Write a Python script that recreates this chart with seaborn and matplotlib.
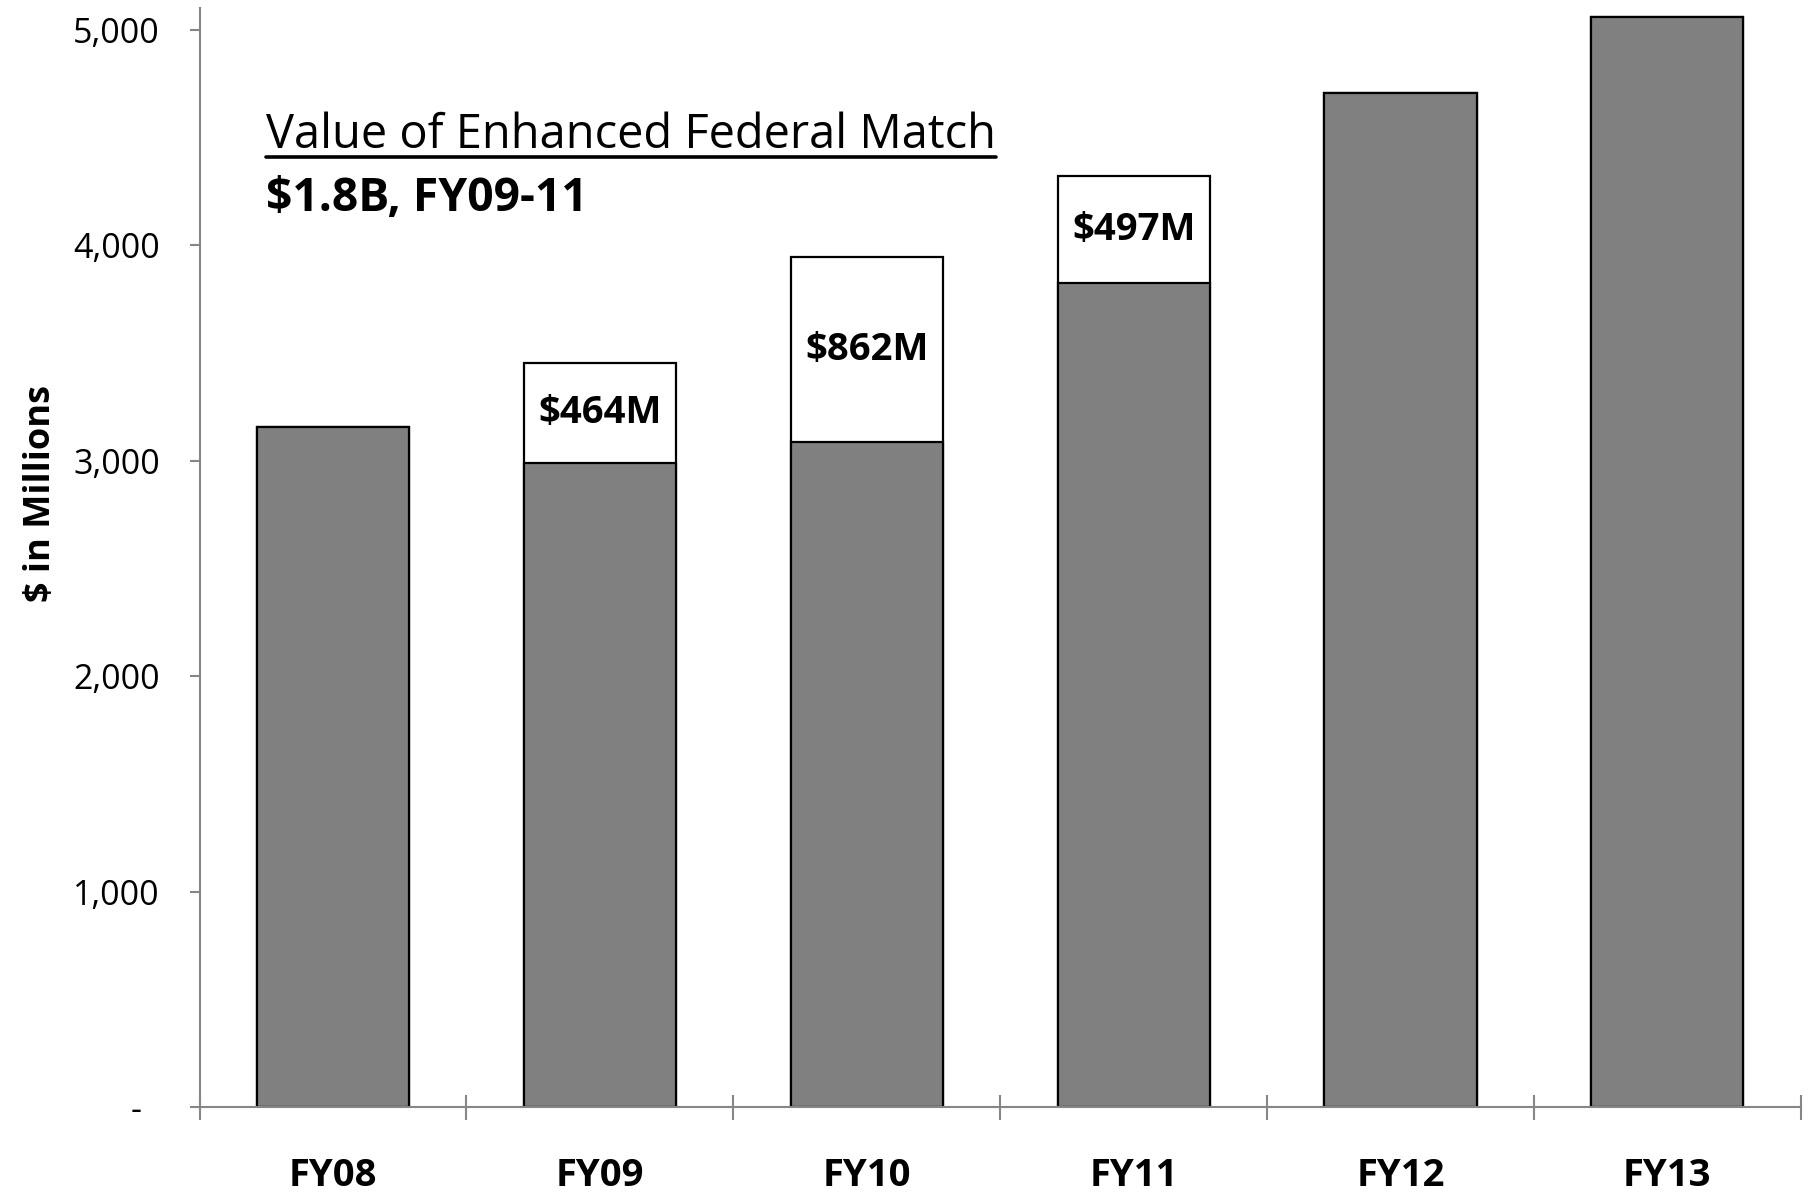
import matplotlib
matplotlib.use("Agg")
import matplotlib.pyplot as plt
from matplotlib.lines import Line2D
from matplotlib.ticker import FixedLocator, NullFormatter
import seaborn as sns

categories = ["FY08", "FY09", "FY10", "FY11", "FY12", "FY13"]
base_values = [3158, 2987, 3084, 3822, 4706, 5059]
enhanced_values = [0, 464, 862, 497, 0, 0]
enhanced_labels = ["", "$464M", "$862M", "$497M", "", ""]
y_ticks = [0, 1000, 2000, 3000, 4000, 5000]
y_tick_labels = ["-  ", "1,000", "2,000", "3,000", "4,000", "5,000"]
title_text = "Value of Enhanced Federal Match"
subtitle_text = "$1.8B, FY09-11"
y_label = "$ in Millions"

sns.set_style("white")
plt.rcParams["font.family"] = ["Open Sans", "DejaVu Sans"]
plt.rcParams["text.color"] = "black"
plt.rcParams["axes.labelcolor"] = "black"
plt.rcParams["xtick.labelcolor"] = "black"
plt.rcParams["ytick.labelcolor"] = "black"

fig = plt.figure(figsize=(18.10, 11.93), dpi=100)
ax = fig.add_axes([0.1103, 0.072, 0.8846, 0.9213])

totals = [b + e for b, e in zip(base_values, enhanced_values)]
sns.barplot(x=categories, y=totals, color="white", edgecolor="black",
            linewidth=1.6, width=0.57, saturation=1, ax=ax)
sns.barplot(x=categories, y=base_values, color="#808080", edgecolor="black",
            linewidth=1.6, width=0.57, saturation=1, ax=ax)

for i, (b, e, lab) in enumerate(zip(base_values, enhanced_values, enhanced_labels)):
    if e > 0:
        ax.text(i, b + e / 2, lab, ha="center", va="center",
                fontsize=27.5, fontweight="bold", color="black")

ax.set_xlim(-0.5, 5.5)
ax.set_ylim(0, 5100)

spine_color = "#868686"
for side in ["top", "right"]:
    ax.spines[side].set_visible(False)
for side in ["left", "bottom"]:
    ax.spines[side].set_color(spine_color)
    ax.spines[side].set_linewidth(1.5)

ax.yaxis.set_major_locator(FixedLocator(y_ticks))
ax.set_yticklabels(y_tick_labels)
ax.tick_params(axis="y", which="major", direction="out", length=7.5, width=1.5,
               color=spine_color, labelsize=24.5, pad=21, left=True,
               labelcolor="black")

ax.tick_params(axis="x", which="major", length=0, labelsize=27.5, pad=36,
               labelcolor="black")
for t in ax.get_xticklabels():
    t.set_fontweight("bold")
ax.xaxis.set_minor_locator(FixedLocator([-0.5, 0.5, 1.5, 2.5, 3.5, 4.5, 5.5]))
ax.xaxis.set_minor_formatter(NullFormatter())
ax.tick_params(axis="x", which="minor", direction="inout", length=18, width=1.5,
               color=spine_color, bottom=True)

ax.set_xlabel("")
ax.set_ylabel(y_label, fontsize=26, fontweight="bold", color="black")
ax.yaxis.set_label_coords(-0.088, 0.558)

title = ax.text(-0.25, 4449, title_text, ha="left", va="baseline", fontsize=33.8,
                color="black")
ax.text(-0.25, 4160, subtitle_text, ha="left", va="baseline", fontsize=33.3,
        fontweight="bold", color="black")

fig.canvas.draw()
bb = title.get_window_extent(renderer=fig.canvas.get_renderer())
inv = fig.transFigure.inverted()
(x0, y0), (x1, y1) = inv.transform([[bb.x0, bb.y0], [bb.x1, bb.y0]])
fig.add_artist(Line2D([x0, x1], [y0 + 0.002, y0 + 0.002], transform=fig.transFigure,
                      color="black", linewidth=2.6))

fig.savefig("out.png", dpi=100, facecolor="white")
